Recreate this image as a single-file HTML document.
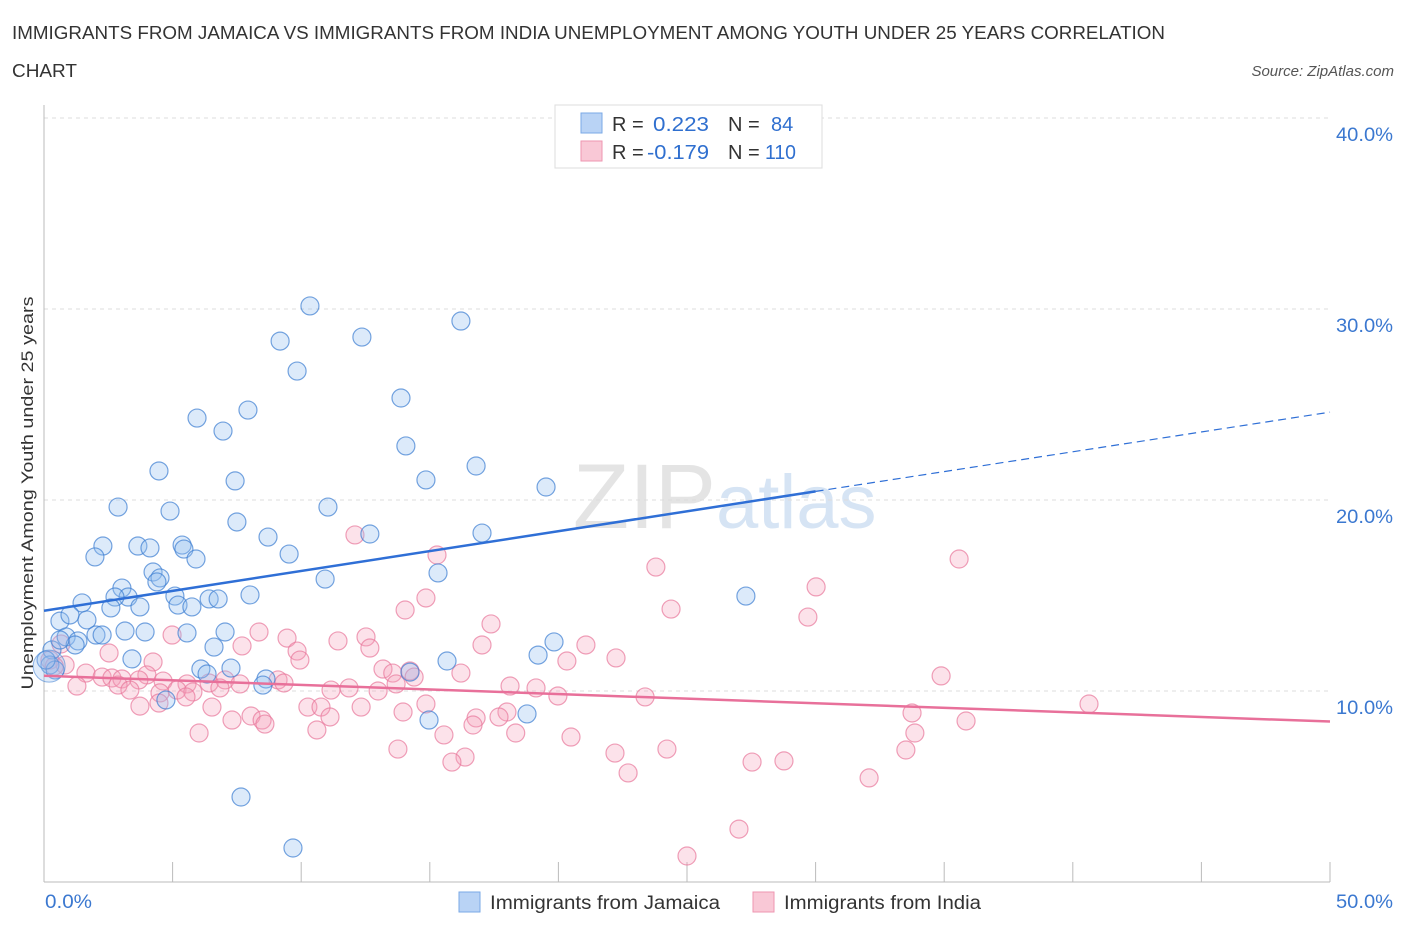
<!DOCTYPE html>
<html><head><meta charset="utf-8"><style>
body{margin:0;background:#fff;font-family:"Liberation Sans",sans-serif;}
svg text{font-family:"Liberation Sans",sans-serif;}
</style></head><body>
<svg id="chart" width="1406" height="930" xmlns="http://www.w3.org/2000/svg">
<text x="12" y="39" font-size="18" fill="#333" textLength="1153" lengthAdjust="spacingAndGlyphs">IMMIGRANTS FROM JAMAICA VS IMMIGRANTS FROM INDIA UNEMPLOYMENT AMONG YOUTH UNDER 25 YEARS CORRELATION</text>
<text x="12" y="77" font-size="18" fill="#333" textLength="65" lengthAdjust="spacingAndGlyphs">CHART</text>
<text x="1394" y="76" font-size="15" fill="#555" font-style="italic" text-anchor="end">Source: ZipAtlas.com</text>
<text x="716" y="528" font-size="92" fill="#e4e4e4" text-anchor="end" font-family="Liberation Serif">ZIP</text>
<text x="716" y="528" font-size="76" fill="#d6e4f4">atlas</text>
<g id="grid"></g><g id="axes"></g><g id="pts"></g><g id="trends"></g>
<text transform="translate(33,493) rotate(-90)" font-size="17" fill="#333" text-anchor="middle" textLength="393" lengthAdjust="spacingAndGlyphs">Unemployment Among Youth under 25 years</text>
<g>
<rect x="555" y="105" width="267" height="63" fill="#fff" stroke="#ddd"/>
<rect x="581" y="113" width="21" height="20" fill="#b9d3f5" stroke="#7aa8e6"/>
<rect x="581" y="141" width="21" height="20" fill="#f9c8d6" stroke="#ee96b0"/>
<text x="612" y="131" font-size="20" fill="#333">R =</text><text x="653" y="131" font-size="20" fill="#2f6fcf" textLength="56" lengthAdjust="spacingAndGlyphs">0.223</text>
<text x="728" y="131" font-size="20" fill="#333">N =</text><text x="771" y="131" font-size="20" fill="#2f6fcf">84</text>
<text x="612" y="159" font-size="20" fill="#333">R =</text><text x="647" y="159" font-size="20" fill="#2f6fcf" textLength="62" lengthAdjust="spacingAndGlyphs">-0.179</text>
<text x="728" y="159" font-size="20" fill="#333">N =</text><text x="765" y="159" font-size="20" fill="#2f6fcf" textLength="31" lengthAdjust="spacingAndGlyphs">110</text>
</g>
<g>
<rect x="459" y="892" width="21" height="20" fill="#b9d3f5" stroke="#7aa8e6"/>
<text x="490" y="909" font-size="19" fill="#333" textLength="230" lengthAdjust="spacingAndGlyphs">Immigrants from Jamaica</text>
<rect x="753" y="892" width="21" height="20" fill="#f9c8d6" stroke="#ee96b0"/>
<text x="784" y="909" font-size="19" fill="#333" textLength="197" lengthAdjust="spacingAndGlyphs">Immigrants from India</text>
</g>
</svg>
<script>
const xTicks=[0,5,10,15,20,25,30,35,40,45,50];
const yTicks=[10,20,30,40];
const yTickLabels=["10.0%","20.0%","30.0%","40.0%"];
const blueX=[10.34,16.21,9.18,12.36,9.84,13.88,7.93,5.95,6.96,14.07,16.80,4.47,14.85,7.43,19.52,2.88,11.04,4.90,7.50,17.03,12.67,8.71,2.29,3.65,4.12,5.37,5.44,9.53,1.98,5.91,4.24,4.51,4.39,15.32,10.93,3.03,3.27,2.76,5.09,6.42,6.77,8.01,27.29,1.48,2.60,3.73,5.21,5.75,1.67,0.62,1.01,2.02,2.26,3.15,3.93,5.56,7.04,0.86,1.32,1.21,0.31,6.61,19.83,3.42,19.21,15.67,0.23,0.43,0.08,6.10,7.27,14.23,8.63,8.51,6.34,4.74,14.97,18.78,7.66,9.68,0.62];
const blueY=[30.16,29.37,28.32,28.53,26.75,25.34,24.71,24.29,23.61,22.83,21.78,21.52,21.05,21.0,20.68,19.63,19.63,19.42,18.85,18.27,18.22,18.06,17.59,17.59,17.49,17.64,17.43,17.17,17.02,16.91,16.23,15.92,15.71,16.18,15.86,15.39,14.92,14.92,14.97,14.82,14.82,15.03,14.97,14.61,14.35,14.4,14.5,14.4,13.72,13.66,13.98,12.93,12.93,13.14,13.09,13.04,13.09,12.83,12.62,12.41,12.15,12.3,12.57,11.68,11.88,11.57,11.36,11.1,11.62,11.15,11.2,10.99,10.63,10.31,10.89,9.53,8.48,8.80,4.45,1.78,12.67];
const pinkX=[12.09,15.28,35.58,23.79,30.02,24.38,14.04,14.85,29.70,17.38,8.36,4.98,12.52,11.43,9.45,21.07,17.03,9.84,12.67,7.70,2.53,9.95,20.33,22.24,4.24,13.18,14.23,13.56,16.21,4.00,34.88,0.66,0.23,0.82,1.63,2.26,2.64,3.03,3.69,4.63,5.56,6.42,7.04,7.62,1.28,2.88,5.17,5.79,6.84,9.10,9.33,11.16,11.86,13.69,12.99,14.39,18.12,19.13,19.98,23.37,40.63,3.34,4.51,5.52,3.73,4.47,6.53,10.26,10.77,12.33,13.96,14.85,18.00,11.12,8.05,8.48,7.31,8.59,10.61,17.69,16.80,16.68,33.75,35.85,6.03,15.55,18.34,20.49,33.86,13.76,22.20,24.22,33.51,16.37,15.86,27.53,28.77,22.71,32.08,27.02,25.0,0.4];
const pinkY=[18.17,17.12,16.91,16.49,15.45,14.29,14.24,14.87,13.87,13.51,13.09,12.93,12.83,12.62,12.77,12.41,12.41,12.09,12.25,12.36,11.99,11.62,11.57,11.73,11.52,11.15,11.05,10.94,10.94,10.84,10.79,12.46,11.62,11.36,10.94,10.73,10.68,10.63,10.58,10.52,10.37,10.42,10.58,10.37,10.26,10.31,10.05,9.95,10.16,10.58,10.42,10.05,10.16,10.37,10.0,10.73,10.26,10.16,9.74,9.69,9.32,10.05,9.90,9.69,9.21,9.37,9.16,9.16,9.16,9.16,8.90,9.32,8.90,8.64,8.69,8.48,8.48,8.27,7.96,8.64,8.59,8.22,8.85,8.43,7.80,7.70,7.80,7.59,7.80,6.96,6.75,6.96,6.91,6.54,6.28,6.28,6.34,5.71,5.45,2.77,1.36,11.3];
const blueTrend=[[0,14.2],[30,20.45],[50,24.6]];
const pinkTrend=[[0,10.8],[50,8.4]];
const X0=44,X1=1330,Y0=882,PX=19.1;
const sx=v=>X0+(X1-X0)*v/50, sy=v=>Y0-v*PX;
const NS="http://www.w3.org/2000/svg";
function mk(tag,attrs,parent){const e=document.createElementNS(NS,tag);for(const k in attrs)e.setAttribute(k,attrs[k]);document.getElementById(parent).appendChild(e);return e;}
yTicks.forEach((t,i)=>{
 const g=mk('line',{x1:X0,x2:X1,y1:sy(t),y2:sy(t),stroke:'#ddd','stroke-dasharray':'4,4'},'grid');
 
 
 const l=mk('text',{x:1393,y:sy(t)+23,'font-size':19,fill:'#3b78d0','text-anchor':'end',textLength:57,lengthAdjust:'spacingAndGlyphs'},'axes');l.textContent=yTickLabels[i];
 
 
});
const ax=mk('line',{x1:X0,x2:X0,y1:105,y2:Y0,stroke:'#bbb'},'axes');


const bx=mk('line',{x1:X0,x2:X1,y1:Y0,y2:Y0,stroke:'#bbb'},'axes');


xTicks.forEach(t=>{const e=mk('line',{x1:sx(t),x2:sx(t),y1:Y0,y2:Y0-20,stroke:'#bbb'},'axes');
 
 });
const xl0=mk('text',{x:45,y:908,'font-size':19,fill:'#3b78d0',textLength:47,lengthAdjust:'spacingAndGlyphs'},'axes');xl0.textContent='0.0%';


const xl1=mk('text',{x:1393,y:908,'font-size':19,fill:'#3b78d0','text-anchor':'end',textLength:57,lengthAdjust:'spacingAndGlyphs'},'axes');xl1.textContent='50.0%';


pinkX.forEach((v,i)=>{const c=mk('circle',{cx:sx(v),cy:sy(pinkY[i]),r:9,fill:'rgba(244,160,185,0.3)',stroke:'rgba(232,120,155,0.7)','stroke-width':1.2},'pts');
 
 });
blueX.forEach((v,i)=>{const c=mk('circle',{cx:sx(v),cy:sy(blueY[i]),r:9,fill:'rgba(150,190,240,0.33)',stroke:'rgba(60,125,210,0.7)','stroke-width':1.2},'pts');
 
 });
const big=mk('circle',{cx:sx(0.2),cy:sy(11.3),r:16,fill:'rgba(150,190,240,0.3)',stroke:'rgba(60,125,210,0.55)'},'pts');


const b1=mk('line',{x1:sx(blueTrend[0][0]),y1:sy(blueTrend[0][1]),x2:sx(blueTrend[1][0]),y2:sy(blueTrend[1][1]),stroke:'#2f6fd6','stroke-width':2.5},'trends');


const b2=mk('line',{x1:sx(blueTrend[1][0]),y1:sy(blueTrend[1][1]),x2:sx(blueTrend[2][0]),y2:sy(blueTrend[2][1]),stroke:'#2f6fd6','stroke-width':1.2,'stroke-dasharray':'8,5'},'trends');


const p1=mk('line',{x1:sx(pinkTrend[0][0]),y1:sy(pinkTrend[0][1]),x2:sx(pinkTrend[1][0]),y2:sy(pinkTrend[1][1]),stroke:'#e8709a','stroke-width':2.5},'trends');


</script>
</body></html>
